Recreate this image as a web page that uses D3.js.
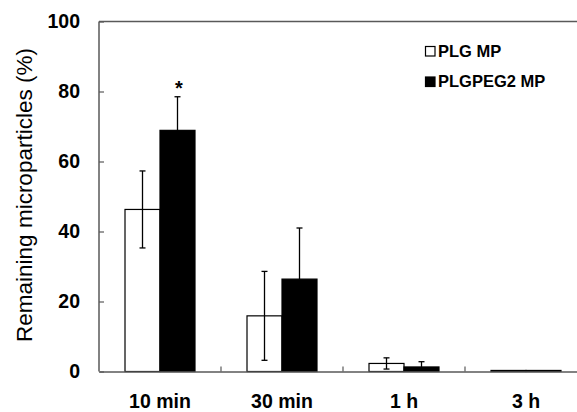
<!DOCTYPE html>
<html><head><meta charset="utf-8">
<script src="https://cdn.jsdelivr.net/npm/d3@7"></script>
<style>body{margin:0;background:#fff}svg{display:block}text{font-family:Arial,"Liberation Sans",sans-serif}</style>
</head><body><svg id="c" width="577" height="412"></svg>
<script>
const categories = ["10 min", "30 min", "1 h", "3 h"];
const seriesNames = ["PLG MP", "PLGPEG2 MP"];
const plgMean = [46.3, 15.9, 2.3, 0.3];
const plgErr = [11.0, 12.7, 1.6, 0];
const pegMean = [68.9, 26.4, 1.3, 0.3];
const pegErr = [9.6, 14.6, 1.5, 0];
const yTicks = [0, 20, 40, 60, 80, 100];
const sigMarks = ["*", "", "", ""];

const svg = d3.select("#c");
const L = 99, T = 21.5, B = 371.5, R = 587;
const axisColor = "#595959";
const x0 = d3.scaleBand().domain(categories).range([L, R]).padding(0);
const x1 = d3.scaleBand().domain(seriesNames).range([0, x0.bandwidth()]).paddingInner(0).paddingOuter(0.743);
const y = d3.scaleLinear().domain([0, 100]).range([B, T]);

const data = categories.map((c, i) => ({
  cat: c,
  vals: [
    {s: seriesNames[0], v: plgMean[i], e: plgErr[i], fill: "#fff"},
    {s: seriesNames[1], v: pegMean[i], e: pegErr[i], fill: "#000"}
  ]
}));

// bars
const g = svg.append("g");
const grp = g.selectAll("g.grp").data(data).join("g").attr("transform", d => `translate(${x0(d.cat)},0)`);
grp.selectAll("rect").data(d => d.vals).join("rect")
  .attr("x", d => x1(d.s)).attr("width", x1.bandwidth())
  .attr("y", d => y(d.v)).attr("height", d => B - y(d.v))
  .attr("fill", d => d.fill).attr("stroke", "#000").attr("stroke-width", 1.2);

// error bars
const eb = grp.selectAll("g.eb").data(d => d.vals.filter(v => v.e > 0)).join("g")
  .attr("stroke", "#000").attr("stroke-width", 1.3);
eb.append("line")
  .attr("x1", d => x1(d.s) + x1.bandwidth() / 2).attr("x2", d => x1(d.s) + x1.bandwidth() / 2)
  .attr("y1", d => d.fill === "#000" ? y(d.v) : y(d.v - d.e)).attr("y2", d => y(d.v + d.e));
eb.append("line")
  .attr("x1", d => x1(d.s) + x1.bandwidth() / 2 - 3).attr("x2", d => x1(d.s) + x1.bandwidth() / 2 + 3)
  .attr("y1", d => y(d.v + d.e)).attr("y2", d => y(d.v + d.e));
eb.filter(d => d.fill !== "#000").append("line")
  .attr("x1", d => x1(d.s) + x1.bandwidth() / 2 - 3).attr("x2", d => x1(d.s) + x1.bandwidth() / 2 + 3)
  .attr("y1", d => y(d.v - d.e)).attr("y2", d => y(d.v - d.e));

// significance
grp.each(function(d, i) {
  if (!sigMarks[i]) return;
  const v = d.vals[1];
  d3.select(this).append("text")
    .attr("x", x1(v.s) + x1.bandwidth() / 2 + 1.5).attr("y", y(v.v + v.e) - 2)
    .attr("text-anchor", "middle").attr("font-size", 20).attr("font-weight", "bold").text(sigMarks[i]);
});

// axes
const yAxis = d3.axisLeft(y).tickValues(yTicks).tickSize(-5).tickPadding(19).tickFormat(d3.format("d"));
const ya = svg.append("g").attr("transform", `translate(${L},0)`).call(yAxis);
ya.select(".domain").attr("stroke", axisColor).attr("stroke-width", 1.5).attr("d", `M0,${T}V${B}`);
ya.selectAll(".tick line").attr("stroke", axisColor).attr("stroke-width", 1.2);
ya.selectAll(".tick text").attr("font-size", 19.5).attr("font-weight", "bold").attr("fill", "#000")
  .attr("font-family", "Arial, 'Liberation Sans', sans-serif");

const xAxis = d3.axisBottom(x0).tickSize(0).tickPadding(22.5);
const xa = svg.append("g").attr("transform", `translate(0,${B})`).call(xAxis);
xa.select(".domain").attr("stroke", axisColor).attr("stroke-width", 1.5);
xa.selectAll(".tick text").attr("font-size", 19.5).attr("font-weight", "bold").attr("fill", "#000")
  .attr("font-family", "Arial, 'Liberation Sans', sans-serif");
// boundary ticks between categories
svg.append("g").selectAll("line").data(categories.slice(1)).join("line")
  .attr("x1", d => x0(d)).attr("x2", d => x0(d)).attr("y1", B).attr("y2", B - 5)
  .attr("stroke", axisColor).attr("stroke-width", 1.2);

// top frame line
svg.append("line").attr("x1", L).attr("x2", R).attr("y1", T).attr("y2", T)
  .attr("stroke", axisColor).attr("stroke-width", 1.5);

// y label
svg.append("text").attr("transform", `translate(32,195) rotate(-90)`)
  .attr("text-anchor", "middle").attr("font-size", 22.5).text("Remaining microparticles (%)");

// legend
const lg = svg.append("g").selectAll("g").data(seriesNames).join("g")
  .attr("transform", (d, i) => `translate(425,${46 + i * 30.5})`);
lg.append("rect").attr("width", 9.5).attr("height", 9.5).attr("x", 0.5).attr("y", 0.5)
  .attr("fill", (d, i) => i ? "#000" : "#fff").attr("stroke", "#000").attr("stroke-width", 1.2);
lg.append("text").attr("x", 13).attr("y", 10.7).attr("font-size", 16.5).attr("font-weight", "bold").text(d => d);
</script></body></html>
